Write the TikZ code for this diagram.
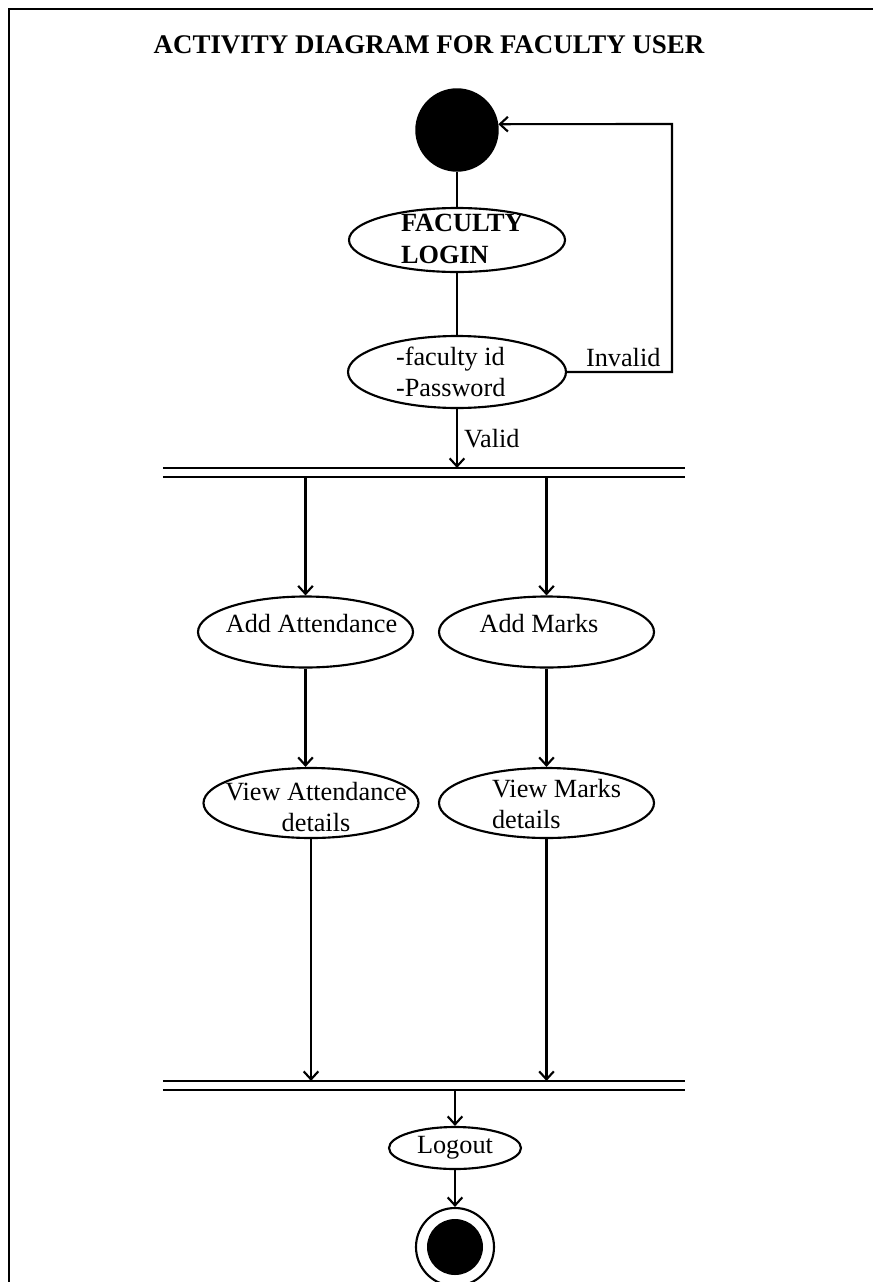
\documentclass[tikz,border=0pt]{standalone}
\usepackage{fontspec}
\setmainfont{Liberation Serif}
\usetikzlibrary{shapes.geometric,arrows.meta}

\begin{document}
\begin{tikzpicture}[
  x=0.75pt, y=-0.75pt,
  font=\fontsize{19.7}{23.5}\selectfont,
  line width=1.6pt,
  activity/.style={ellipse, draw, inner sep=0pt, minimum width=#1},
  startstate/.style={circle, fill=black, draw=black, inner sep=0pt, minimum size=61pt},
  endouter/.style={circle, draw, inner sep=0pt, minimum size=58.5pt},
  endinner/.style={circle, fill=black, inner sep=0pt, minimum size=42pt},
  syncbar/.style={rectangle, inner sep=0pt, minimum width=390pt, minimum height=5.25pt},
  txt/.style={inner sep=0pt},
  flow/.style={-{Straight Barb[length=6pt,width=11pt,line width=1.6pt]}},
]
\useasboundingbox (0,0) rectangle (872,1282);

% frame
\draw[line width=2pt] (9,1290) -- (9,9) -- (880,9);

% title
\node[txt, font=\fontsize{20.2}{24}\selectfont\bfseries] (title) at (429,45)
  {ACTIVITY DIAGRAM FOR FACULTY USER};

% states
\node[startstate] (start) at (457,130) {};
\node[activity=162pt, minimum height=48pt] (login) at (457,240) {};
\node[activity=163.5pt, minimum height=54pt] (cred) at (457,372) {};
\node[syncbar] (fork) at (424,472.5) {};
\node[activity=161.25pt, minimum height=53.25pt] (addatt) at (305.5,632) {};
\node[activity=161.25pt, minimum height=53.25pt] (addmarks) at (546.5,632) {};
\node[activity=161.25pt, minimum height=52.5pt] (viewatt) at (311,803) {};
\node[activity=161.25pt, minimum height=52.5pt] (viewmarks) at (546.5,803) {};
\node[syncbar] (join) at (424,1085.5) {};
\node[activity=99pt, minimum height=31.5pt] (logout) at (455,1148) {};
\node[endouter] (finish) at (455,1247) {};
\node[endinner] (finishdot) at (finish.center) {};

% sync bars
\draw (fork.north west) -- (fork.north east) (fork.south west) -- (fork.south east);
\draw (join.north west) -- (join.north east) (join.south west) -- (join.south east);

% labels
\node[txt, anchor=west, align=left, font=\fontsize{19.7}{24}\selectfont\bfseries] (logintxt) at (400,239) {FACULTY\\LOGIN};
\node[txt, anchor=west, align=left] (credtxt) at (395,372) {-faculty id\\-Password};
\node[txt] (addatttxt) at (311.5,624) {Add Attendance};
\node[txt] (addmarkstxt) at (539,624) {Add Marks};
\node[txt, align=center] (viewatttxt) at (316,807) {View Attendance\\details};
\node[txt, anchor=west, align=left] (viewmarkstxt) at (491,804) {View Marks\\details};
\node[txt] (logouttxt) at (455,1148) {Logout};
\node[txt, anchor=base west] (invalidtxt) at (585,366) {Invalid};
\node[txt, anchor=base west] (validtxt) at (463,447) {Valid};

% connectors
\coordinate (loop) at (672,124);
\draw (start.south) -- (login.north);
\draw (login.south) -- (cred.north);
\draw[flow] (cred.east) -| (loop) -- (start.8);
\draw[flow] (cred.south) -- (cred.south |- fork.north);
\draw[flow] (addatt.north |- fork.south) -- (addatt.north);
\draw[flow] (addmarks.north |- fork.south) -- (addmarks.north);
\draw[flow] (addatt.south) -- (addatt.south |- viewatt.north);
\draw[flow] (addmarks.south) -- (viewmarks.north);
\draw[flow] (viewatt.south) -- (viewatt.south |- join.north);
\draw[flow] (viewmarks.south) -- (viewmarks.south |- join.north);
\draw[flow] (logout.north |- join.south) -- (logout.north);
\draw[flow] (logout.south) -- (finish.north);
\end{tikzpicture}
\end{document}
